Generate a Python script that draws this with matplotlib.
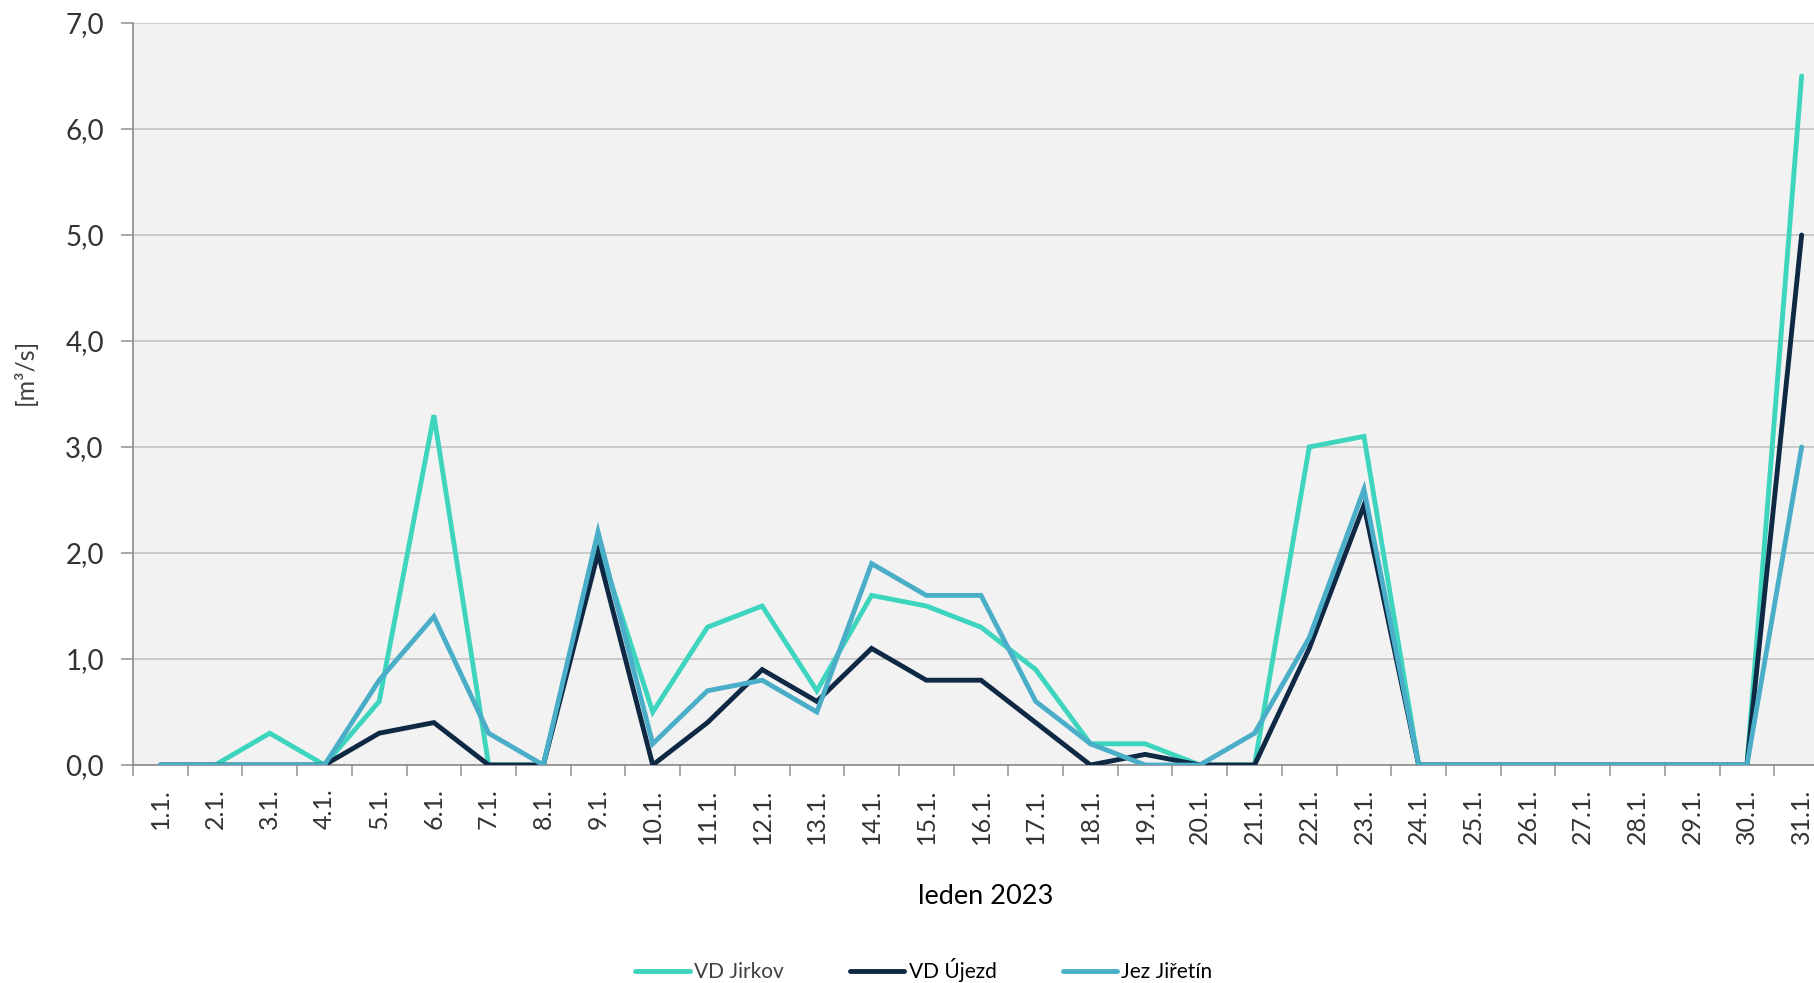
import matplotlib
matplotlib.use("Agg")
import matplotlib.pyplot as plt
import numpy as np

plt.rcParams['font.family'] = ['Lato', 'DejaVu Sans']

days = [f"{d}.1." for d in range(1, 32)]

vd_jirkov = [0, 0, 0.3, 0, 0.6, 3.3, 0, 0, 2.1, 0.5, 1.3, 1.5, 0.7, 1.6, 1.5, 1.3,
             0.9, 0.2, 0.2, 0, 0, 3.0, 3.1, 0, 0, 0, 0, 0, 0, 0, 6.5]
vd_ujezd = [0, 0, 0, 0, 0.3, 0.4, 0, 0, 2.0, 0, 0.4, 0.9, 0.6, 1.1, 0.8, 0.8,
            0.4, 0, 0.1, 0, 0, 1.1, 2.45, 0, 0, 0, 0, 0, 0, 0, 5.0]
jez_jiretin = [0, 0, 0, 0, 0.8, 1.4, 0.3, 0, 2.2, 0.2, 0.7, 0.8, 0.5, 1.9, 1.6, 1.6,
               0.6, 0.2, 0, 0, 0.3, 1.2, 2.6, 0, 0, 0, 0, 0, 0, 0, 3.0]

series = [
    ("VD Jirkov", vd_jirkov, "#3dd5be", "#404040"),
    ("VD Újezd", vd_ujezd, "#0f2844", "#000000"),
    ("Jez Jiřetín", jez_jiretin, "#4baec8", "#000000"),
]

fig = plt.figure(figsize=(18.15, 9.83), dpi=100)
# plot area runs slightly past the right edge, as in the source image
ax = fig.add_axes([133 / 1815, 1 - 765 / 983, (1829 - 133) / 1815, (765 - 23) / 983])
ax.set_facecolor("#f2f2f2")

x = np.arange(len(days))
handles = []
for name, vals, col, _ in series:
    h, = ax.plot(x, vals, color=col, lw=3.5, solid_capstyle="round",
                 solid_joinstyle="miter", label=name, zorder=3)
    handles.append(h)

ax.set_xlim(-0.5, len(days) - 0.5)
ax.set_ylim(0, 7)
ax.set_yticks(np.arange(0, 8, 1))
ax.set_yticklabels([f"{v:.1f}".replace(".", ",") for v in range(8)])
ax.yaxis.grid(True, color="#c4c4c4", lw=1.2, zorder=1)
ax.set_axisbelow(True)

ax.set_xticks(x)
ax.set_xticklabels(days, rotation=90, va="top", ha="center")
ax.set_xticks(np.arange(-0.5, len(days) + 0.5, 1), minor=True)
ax.tick_params(axis="x", which="major", length=0, pad=17, labelsize=18, labelcolor="#333333")
ax.tick_params(axis="x", which="minor", length=8, width=1.2, color="#9a9a9a")
ax.tick_params(axis="y", length=9, width=1.2, color="#9a9a9a", pad=12,
               labelsize=20, labelcolor="#333333")

for s in ["top", "right"]:
    ax.spines[s].set_visible(False)
for s in ["left", "bottom"]:
    ax.spines[s].set_color("#8a8a8a")
    ax.spines[s].set_linewidth(1.2)

ax.set_ylabel("[m³/s]", fontsize=18, color="#404040")
ax.yaxis.set_label_coords(-0.057, 0.53)
fig.text(986 / 1815, 1 - 897 / 983, "leden 2023", fontsize=19.5, color="#000000",
         ha="center", va="center")

leg = fig.legend(handles=handles, loc="center", bbox_to_anchor=(924 / 1815, 1 - 970 / 983),
                 ncol=3, frameon=False, fontsize=15, handlelength=2.6,
                 handletextpad=0.2, columnspacing=3.2)
for t, (_, _, _, tc) in zip(leg.get_texts(), series):
    t.set_color(tc)

fig.savefig("out.png", dpi=100)
